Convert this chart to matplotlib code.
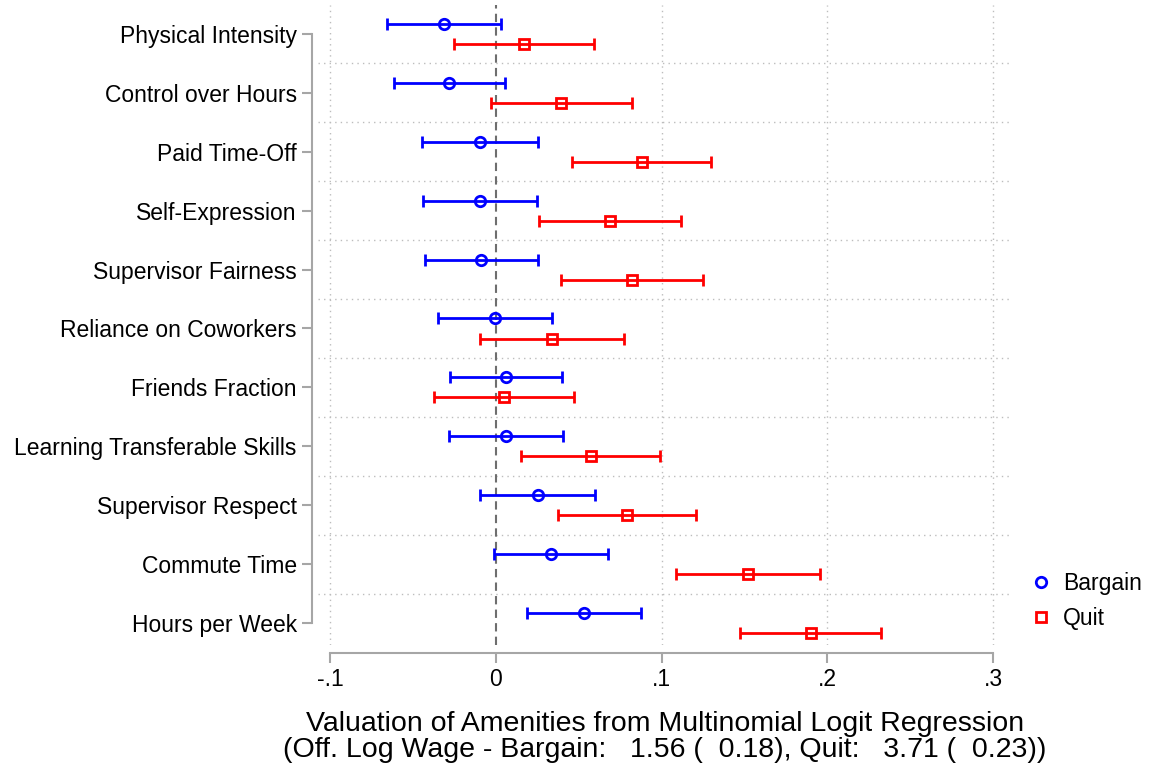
import matplotlib
matplotlib.use('Agg')
import matplotlib.pyplot as plt
from matplotlib.lines import Line2D
import numpy as np

plt.rcParams['font.family'] = ['Liberation Sans', 'DejaVu Sans']

amenities = ['Physical Intensity', 'Control over Hours', 'Paid Time-Off',
             'Self-Expression', 'Supervisor Fairness', 'Reliance on Coworkers',
             'Friends Fraction', 'Learning Transferable Skills',
             'Supervisor Respect', 'Commute Time', 'Hours per Week']

bargain_est = [-0.031, -0.028, -0.0096, -0.0096, -0.0087, -0.0004,
               0.0060, 0.0064, 0.0255, 0.0333, 0.0534]
bargain_lo = [-0.0657, -0.0614, -0.0442, -0.0438, -0.0428, -0.0346,
              -0.0275, -0.0280, -0.0094, -0.0008, 0.0190]
bargain_hi = [0.0034, 0.0054, 0.0253, 0.0247, 0.0257, 0.0339,
              0.0398, 0.0407, 0.0598, 0.0676, 0.0877]

quit_est = [0.0170, 0.0395, 0.0880, 0.0689, 0.0823, 0.0341,
            0.0050, 0.0572, 0.0791, 0.1523, 0.1900]
quit_lo = [-0.0253, -0.0030, 0.0461, 0.0261, 0.0395, -0.0095,
           -0.0372, 0.0151, 0.0378, 0.1089, 0.1475]
quit_hi = [0.0593, 0.0821, 0.1299, 0.1116, 0.1249, 0.0775,
           0.0472, 0.0992, 0.1207, 0.1956, 0.2323]

xticks = [-0.1, 0, 0.1, 0.2, 0.3]
xticklabels = ['-.1', '0', '.1', '.2', '.3']

W, H = 1151, 765
fig = plt.figure(figsize=(W / 100, H / 100), dpi=100)
ax = fig.add_axes([318 / W, 1 - 645 / H, (1012 - 318) / W, (645 - 5) / H])

pos = np.arange(1, len(amenities) + 1)
off = 0.17
grey = '#a6a6a6'
fs = 16.5


def draw_series(y, est, lo, hi, color, marker, ms):
    est = np.array(est)
    err = [est - np.array(lo), np.array(hi) - est]
    ax.errorbar(est, y, xerr=err, fmt='none', ecolor=color, elinewidth=2,
                capsize=4.5, capthick=2, zorder=3)
    ax.plot(est, y, linestyle='none', marker=marker, ms=ms, mfc='none',
            mec=color, mew=2, zorder=4)


draw_series(pos - off, bargain_est, bargain_lo, bargain_hi, 'blue', 'o', 7.5)
draw_series(pos + off, quit_est, quit_lo, quit_hi, 'red', 's', 7)

# grid lines
for g in pos[:-1] + 0.5:
    ax.axhline(g, color='#bdbdbd', linestyle=(0, (1, 3)), linewidth=1, zorder=1)
for t in xticks:
    if t != 0:
        ax.axvline(t, color='#bdbdbd', linestyle=(0, (1, 3)), linewidth=1, zorder=1)
ax.axvline(0, color='#6e6e6e', linestyle=(0, (4, 2.5)), linewidth=1.5, zorder=2)

ax.set_xlim(-0.1 - 12 / 1658, 0.3 + 19 / 1658)
ax.set_ylim(1 + 611 / 58.9, 1 - 29 / 58.9)

for s in ['top', 'right']:
    ax.spines[s].set_visible(False)
ax.spines['left'].set_position(('outward', 4.3))
ax.spines['left'].set_bounds(1, len(amenities))
ax.spines['bottom'].set_position(('outward', 5.8))
ax.spines['bottom'].set_bounds(-0.1, 0.3)
for s in ['left', 'bottom']:
    ax.spines[s].set_color(grey)
    ax.spines[s].set_linewidth(1.5)

ax.set_yticks(pos)
ax.set_yticklabels(amenities)
ax.set_xticks(xticks)
ax.set_xticklabels(xticklabels)
ax.tick_params(axis='both', color=grey, width=1.5, length=7, pad=4,
               labelsize=fs)

ax.set_xlabel('Valuation of Amenities from Multinomial Logit Regression\n'
              '(Off. Log Wage - Bargain:   1.56 (  0.18), Quit:   3.71 (  0.23))',
              fontsize=20.5, labelpad=14, linespacing=1.0)

handles = [Line2D([], [], linestyle='none', marker='o', ms=7.5, mfc='none',
                  mec='blue', mew=2),
           Line2D([], [], linestyle='none', marker='s', ms=7, mfc='none',
                  mec='red', mew=2)]
fig.legend(handles, ['Bargain', 'Quit'], loc='center left',
           bbox_to_anchor=(1009 / W, 1 - 601 / H), frameon=False, fontsize=fs,
           handlelength=1, handletextpad=0.45, labelspacing=0.55)

fig.savefig('out.png', dpi=100)
